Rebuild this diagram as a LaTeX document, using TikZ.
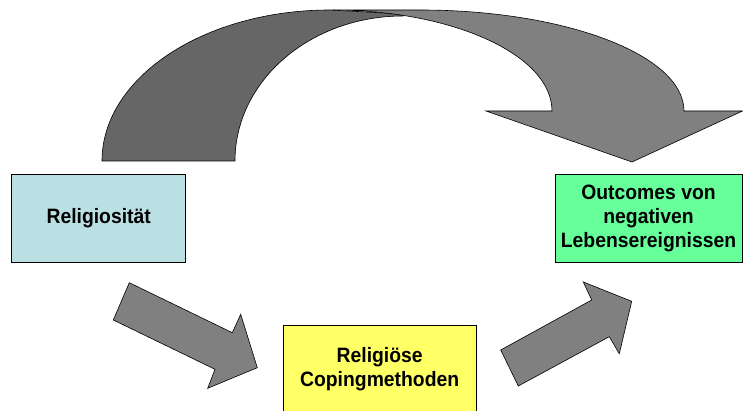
\documentclass[tikz,border=0pt]{standalone}
\usepackage{fontspec}
\setmainfont{Liberation Sans}
\newfontfamily\boxfont[FakeStretch=0.93]{Liberation Sans}
\definecolor{boxblue}{RGB}{187,224,227}
\definecolor{boxgreen}{RGB}{102,255,153}
\definecolor{boxyellow}{RGB}{255,255,102}
\definecolor{arrowlight}{RGB}{128,128,128}
\definecolor{arrowdark}{RGB}{102,102,102}
\begin{document}
\begin{tikzpicture}[x=1pt,y=1pt,
  boxstyle/.style={draw=black,line width=0.8pt,rectangle,inner sep=0pt,
    font=\boxfont\fontsize{20.8}{24}\selectfont\bfseries,align=center},
  blockarrow/.style={draw=black,line width=0.6pt,fill=arrowlight,line join=miter}]
\useasboundingbox (0,0) rectangle (743,411);
% curved arrow: back (dark) part
\draw[line width=0.6pt,fill=arrowdark] (102,250)
  arc[start angle=180,end angle=90,x radius=228,y radius=151]
  -- (403,397)
  -- (403,395)
  arc[start angle=90,end angle=180,x radius=168,y radius=145]
  -- cycle;
% curved arrow: front (light) part with head
\draw[line width=0.6pt,fill=arrowlight,line join=miter] (332,401) -- (420,401)
  arc[start angle=90,end angle=0,x radius=264,y radius=101]
  -- (742.5,300) -- (632,249) -- (486,300) -- (552,300)
  arc[start angle=0,end angle=90,x radius=220,y radius=101]
  -- cycle;
% boxes
\node[boxstyle,fill=boxblue,minimum width=174pt,minimum height=88pt] (rel) at (98.7,192.7) {Religiosität};
\node[boxstyle,fill=boxgreen,minimum width=187pt,minimum height=88pt] (out) at (648.5,192.85) {Outcomes von\\negativen\\Lebensereignissen};
\node[boxstyle,fill=boxyellow,minimum width=192.7pt,minimum height=87.6pt] (cop) at (379.65,41.5) {Religiöse\\Copingmethoden};
% block arrows
\draw[blockarrow] (129.3,128.3) -- (232.3,78.3) -- (240.7,96.7) -- (257.3,43.3)
  -- (207.7,22.7) -- (215,41.7) -- (113.3,91) -- cycle;
\draw[blockarrow] (518.3,25) -- (500.7,61) -- (591.7,111) -- (583.3,129)
  -- (631.7,109.7) -- (619.3,57.3) -- (609.3,74.3) -- cycle;
\end{tikzpicture}
\end{document}
